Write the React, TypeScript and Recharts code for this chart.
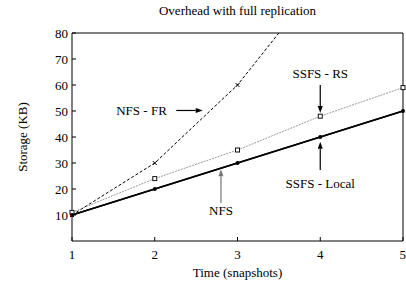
import React from 'react';
import {
  LineChart,
  Line,
  XAxis,
  YAxis,
  ReferenceLine,
  ReferenceDot,
} from 'recharts';

// ─── Data ─────────────────────────────────────────────────────────

const snapshots = [1, 2, 3, 4, 5];
const nfsFr = [10, 30, 60, 100, 150];
const ssfsRs = [11, 24, 35, 48, 59];
const ssfsLocal = [10, 20, 30, 40, 50];
const nfs = [10, 20, 30, 40, 50];

const yTicks = [10, 20, 30, 40, 50, 60, 70, 80];

// annotation text + arrows, in data units
const notes = [
  { text: 'NFS - FR', x: 1.84, y: 50.1 },
  { text: 'SSFS - RS', x: 4, y: 64.5 },
  { text: 'SSFS - Local', x: 4, y: 22.3 },
  { text: 'NFS', x: 2.8, y: 11.9 },
];
const arrows = [
  { from: [2.26, 50.2], to: [2.58, 50.2], color: '#000' },
  { from: [4, 60], to: [4, 49.2], color: '#000' },
  { from: [4, 27.3], to: [4, 38.2], color: '#000' },
  { from: [2.8, 14.6], to: [2.8, 27.6], color: '#777' },
];

const data = snapshots.map((t, i) => ({
  t,
  nfsFr: nfsFr[i],
  ssfsRs: ssfsRs[i],
  ssfsLocal: ssfsLocal[i],
  nfs: nfs[i],
}));

const FONT = '"Liberation Serif", "Times New Roman", serif';

// ─── Shapes ───────────────────────────────────────────────────────

const CrossDot = (p: any) => {
  const { cx, cy } = p;
  if (cx == null || cy == null) return <g key={p.index} />;
  const s = 2;
  return (
    <g key={p.index}>
      <line x1={cx - s} y1={cy - s} x2={cx + s} y2={cy + s} stroke="#000" strokeWidth={1} />
      <line x1={cx - s} y1={cy + s} x2={cx + s} y2={cy - s} stroke="#000" strokeWidth={1} />
    </g>
  );
};

const SquareDot = (p: any) => {
  const { cx, cy } = p;
  return (
    <rect
      key={p.index}
      x={cx - 2}
      y={cy - 2}
      width={4}
      height={4}
      fill="#fff"
      stroke="#111"
      strokeWidth={1}
    />
  );
};

const SolidDot = (p: any) => {
  const { cx, cy } = p;
  return <circle key={p.index} cx={cx} cy={cy} r={2} fill="#000" />;
};

const makeArrow = (color: string) => (p: any) => {
  const { x1, y1, x2, y2 } = p;
  const dx = x2 - x1;
  const dy = y2 - y1;
  const len = Math.hypot(dx, dy) || 1;
  const ux = dx / len;
  const uy = dy / len;
  const hl = 7;
  const hw = 2.5;
  const bx = x2 - ux * hl;
  const by = y2 - uy * hl;
  const pts = `${x2},${y2} ${bx - uy * hw},${by + ux * hw} ${bx + uy * hw},${by - ux * hw}`;
  return (
    <g>
      <line x1={x1} y1={y1} x2={bx} y2={by} stroke={color} strokeWidth={1.2} />
      <polygon points={pts} fill={color} />
    </g>
  );
};

const makeNote = (text: string) => (p: any) => (
  <text
    x={p.cx}
    y={p.cy}
    textAnchor="middle"
    dominantBaseline="central"
    fontFamily={FONT}
    fontSize={13}
    fill="#000"
  >
    {text}
  </text>
);

// ─── Component ────────────────────────────────────────────────────

export default function App() {
  const tickStyle = { fontFamily: FONT, fontSize: 13, fill: '#000' };

  return (
    <div style={{ position: 'absolute', left: 0, top: 0, width: 406, height: 288, background: '#fff' }}>
      <div
        style={{
          position: 'absolute',
          left: 72,
          top: 4,
          width: 331,
          textAlign: 'center',
          fontFamily: FONT,
          fontSize: 13,
          lineHeight: '13px',
          color: '#000',
        }}
      >
        Overhead with full replication
      </div>
      <LineChart
        width={406}
        height={288}
        data={data}
        margin={{ top: 32, right: 2, bottom: 0, left: 0 }}
      >
        <XAxis
          dataKey="t"
          type="number"
          domain={[1, 5]}
          ticks={snapshots}
          height={47}
          tickSize={-4}
          tickMargin={13}
          tick={tickStyle}
          stroke="#000"
          axisLine={{ stroke: '#000' }}
          tickLine={{ stroke: '#000' }}
          label={{
            content: ({ viewBox }: any) => (
              <text
                x={viewBox.x + viewBox.width / 2}
                y={viewBox.y + 36}
                textAnchor="middle"
                fontFamily={FONT}
                fontSize={13}
                fill="#000"
              >
                Time (snapshots)
              </text>
            ),
          }}
        />
        <XAxis
          xAxisId="top"
          orientation="top"
          dataKey="t"
          type="number"
          domain={[1, 5]}
          ticks={snapshots}
          height={1}
          tickSize={-4}
          tick={false}
          stroke="#000"
        />
        <YAxis
          type="number"
          domain={[0, 80]}
          ticks={yTicks}
          allowDataOverflow
          width={72}
          tickSize={-4}
          tickMargin={8}
          tick={tickStyle}
          stroke="#000"
          label={{
            content: ({ viewBox }: any) => {
              const cx = 22;
              const cy = viewBox.y + viewBox.height / 2;
              return (
                <text
                  x={cx}
                  y={cy}
                  transform={`rotate(-90 ${cx} ${cy})`}
                  textAnchor="middle"
                  dominantBaseline="central"
                  fontFamily={FONT}
                  fontSize={13}
                  fill="#000"
                >
                  Storage (KB)
                </text>
              );
            },
          }}
        />
        <YAxis
          yAxisId="right"
          orientation="right"
          type="number"
          domain={[0, 80]}
          ticks={yTicks}
          width={1}
          tickSize={-4}
          tick={false}
          stroke="#000"
        />

        <Line
          dataKey="nfsFr"
          stroke="#000"
          strokeWidth={1}
          strokeDasharray="3 2"
          dot={CrossDot}
          activeDot={false}
          isAnimationActive={false}
        />
        <Line
          dataKey="ssfsRs"
          stroke="#999"
          strokeWidth={1}
          strokeDasharray="2 1"
          dot={SquareDot}
          activeDot={false}
          isAnimationActive={false}
        />
        <Line
          dataKey="nfs"
          stroke="#000"
          strokeWidth={1.4}
          dot={false}
          activeDot={false}
          isAnimationActive={false}
        />
        <Line
          dataKey="ssfsLocal"
          stroke="#000"
          strokeWidth={1.4}
          dot={SolidDot}
          activeDot={false}
          isAnimationActive={false}
        />

        {arrows.map((a, i) => (
          <ReferenceLine
            key={`a${i}`}
            segment={[
              { x: a.from[0], y: a.from[1] },
              { x: a.to[0], y: a.to[1] },
            ]}
            shape={makeArrow(a.color)}
          />
        ))}
        {notes.map((n) => (
          <ReferenceDot key={n.text} x={n.x} y={n.y} r={1} shape={makeNote(n.text)} />
        ))}
      </LineChart>
    </div>
  );
}
